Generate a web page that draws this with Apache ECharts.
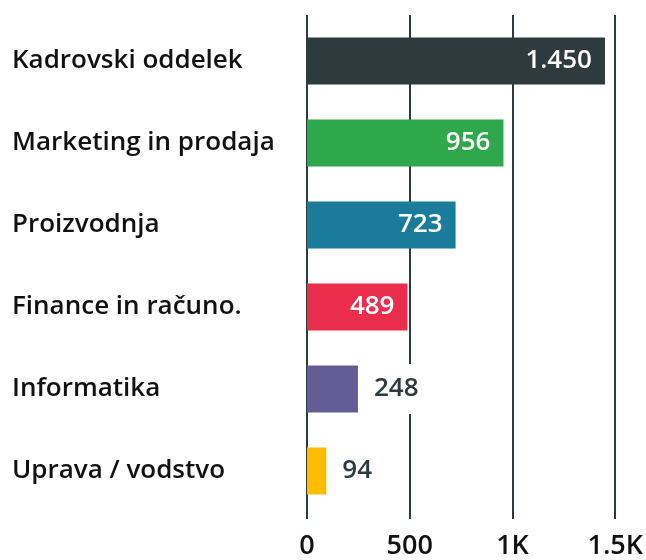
<!DOCTYPE html>
<html>
<head>
<meta charset="utf-8">
<script src="https://cdn.jsdelivr.net/npm/echarts@6/dist/echarts.min.js"></script>
<style>
html, body { margin: 0; padding: 0; background: #fff; }
#container { width: 646px; height: 560px; }
</style>
</head>
<body>
<div id="container"></div>
<script>
var categories = ['Kadrovski oddelek', 'Marketing in prodaja', 'Proizvodnja', 'Finance in računo.', 'Informatika', 'Uprava / vodstvo'];
var values = [1450, 956, 723, 489, 248, 94];
var barColors = ['#2d3a3e', '#2ea84b', '#1a7b9b', '#e92d4a', '#645c96', '#ffbc00'];
var axisTicks = ['0', '500', '1K', '1.5K'];

var DARK = '#2d3a3e';
var FONT = 'Open Sans';

function fmt(v) {
    return String(v).replace(/\B(?=(\d{3})+(?!\d))/g, '.');
}

var dom = document.getElementById('container');
var myChart = echarts.init(dom);

var data = values.map(function (v, i) {
    var inside = v > 300;
    return {
        value: v,
        itemStyle: { color: barColors[i] },
        label: inside ? {
            position: 'insideRight',
            distance: 13,
            color: '#fff'
        } : {
            position: 'right',
            distance: 10,
            color: DARK,
            backgroundColor: '#fff',
            padding: [12, 4, 12, 6]
        }
    };
});

var option = {
    animation: false,
    textStyle: { fontFamily: FONT },
    grid: { left: 307, right: 28, top: 20, bottom: 42.5 },
    xAxis: [{
        type: 'value',
        min: 0,
        max: 1500,
        interval: 500,
        position: 'bottom',
        axisLine: { show: false },
        axisTick: { show: true, length: 7, lineStyle: { color: DARK, width: 2 } },
        splitLine: { show: true, lineStyle: { color: DARK, width: 2 } },
        axisLabel: {
            margin: 21,
            color: '#111',
            fontSize: 27,
            fontWeight: 600,
            fontFamily: FONT,
            formatter: function (v) { return axisTicks[v / 500]; }
        }
    }, {
        type: 'value',
        min: 0,
        max: 1500,
        interval: 500,
        position: 'top',
        axisLine: { show: false },
        axisTick: { show: true, length: 5, lineStyle: { color: DARK, width: 2 } },
        splitLine: { show: false },
        axisLabel: { show: false }
    }],
    yAxis: {
        type: 'category',
        data: categories,
        inverse: true,
        axisLine: { show: false },
        axisTick: { show: false },
        axisLabel: {
            align: 'left',
            margin: 295,
            color: '#111',
            fontSize: 26,
            fontWeight: 600,
            fontFamily: FONT
        }
    },
    series: [{
        type: 'bar',
        barWidth: 47,
        data: data,
        label: {
            show: true,
            fontSize: 26,
            fontWeight: 600,
            fontFamily: FONT,
            formatter: function (p) { return fmt(p.value); }
        }
    }]
};

myChart.setOption(option);
</script>
</body>
</html>
